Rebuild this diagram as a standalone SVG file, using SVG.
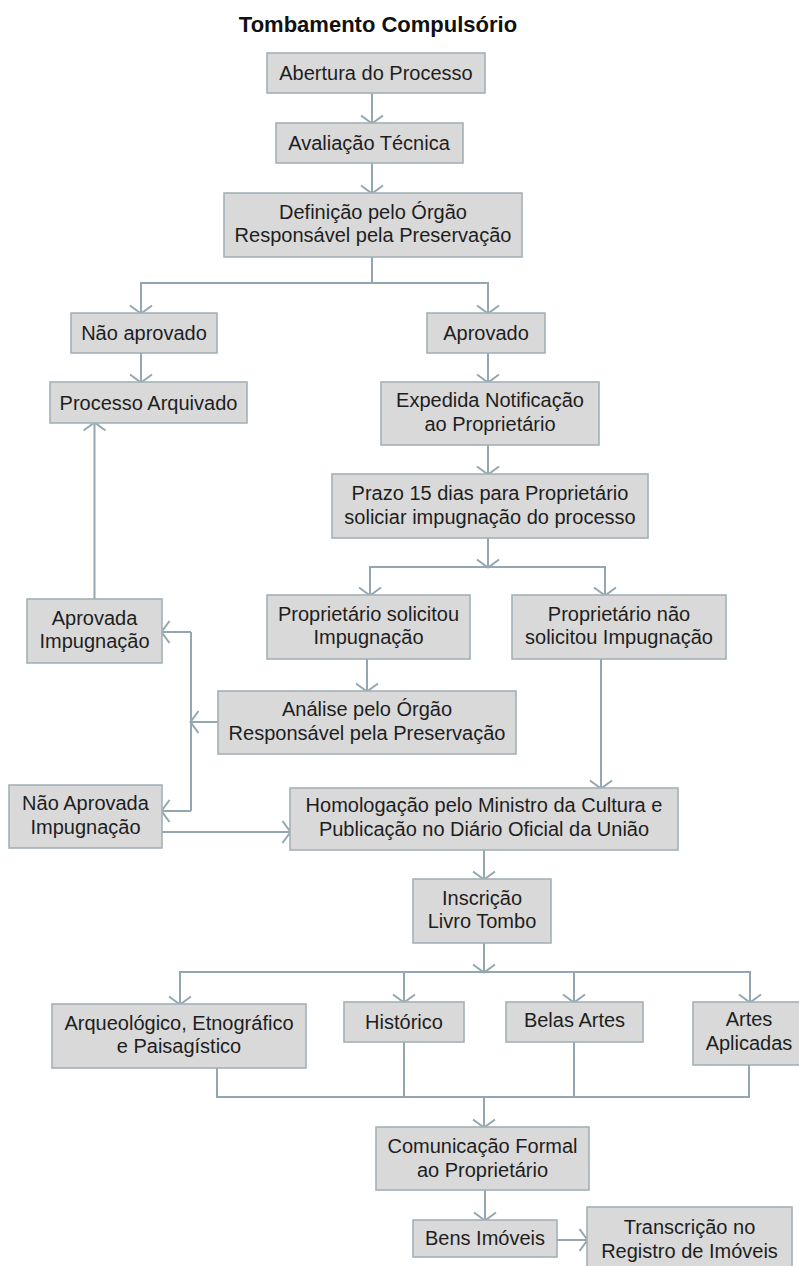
<svg xmlns="http://www.w3.org/2000/svg" width="799" height="1266" viewBox="0 0 799 1266">
<style>
.box{fill:#d9d9d9;stroke:#a3b1b7;stroke-width:1.6}
.t{font-family:"Liberation Sans",Arial,sans-serif;font-size:20px;fill:#1e1e1e;text-anchor:middle}
.title{font-family:"Liberation Sans",Arial,sans-serif;font-size:22px;font-weight:bold;fill:#111;text-anchor:middle}
.c{fill:none;stroke:#94a7b0;stroke-width:2}
.a{marker-end:url(#ah)}
</style>
<defs>
<marker id="ah" markerUnits="userSpaceOnUse" viewBox="0 0 24 24" markerWidth="24" markerHeight="24" refX="11.5" refY="12" orient="auto">
<path d="M4 1 L12 12 L4 23" fill="none" stroke="#94a7b0" stroke-width="2"/>
</marker>
</defs>
<rect width="799" height="1266" fill="#ffffff"/>
<text class="title" x="378" y="32">Tombamento Compulsório</text>

<g id="connectors">
<path class="c a" d="M372 93 V123"/>
<path class="c a" d="M372 163 V193"/>
<path class="c" d="M372 257 V283"/>
<path class="c a" d="M372 283 H141 V313"/>
<path class="c a" d="M372 283 H488 V313"/>
<path class="c a" d="M141 353 V382"/>
<path class="c a" d="M488 353 V382"/>
<path class="c a" d="M488 445 V474"/>
<path class="c a" d="M488 538 V567"/>
<path class="c a" d="M488 567 H370 V595"/>
<path class="c a" d="M488 567 H605 V595"/>
<path class="c a" d="M367 659 V691"/>
<path class="c a" d="M601 659 V788"/>
<path class="c a" d="M218 722 H191"/>
<path class="c" d="M191 632 V811"/>
<path class="c a" d="M191 632 H162"/>
<path class="c a" d="M191 811 H162"/>
<path class="c a" d="M94.5 599 V423"/>
<path class="c a" d="M162 832 H290"/>
<path class="c a" d="M484 850 V879"/>
<path class="c a" d="M484 943 V972"/>
<path class="c a" d="M484 972 H180 V1004"/>
<path class="c a" d="M404 972 V1002"/>
<path class="c a" d="M574 972 V1002"/>
<path class="c a" d="M484 972 H750 V1002"/>
<path class="c" d="M217 1068 V1097 H749 V1065"/>
<path class="c" d="M404 1042 V1097"/>
<path class="c" d="M574 1042 V1097"/>
<path class="c a" d="M484 1097 V1127"/>
<path class="c a" d="M485 1190 V1220"/>
<path class="c a" d="M557 1240 H587"/>
</g>

<g id="n-abertura"><rect class="box" x="267" y="53" width="218" height="40"/><text class="t" x="376" y="80">Abertura do Processo</text></g>
<g id="n-avaliacao"><rect class="box" x="276" y="123" width="187" height="40"/><text class="t" x="369" y="150">Avaliação Técnica</text></g>
<g id="n-definicao"><rect class="box" x="224" y="193" width="298" height="64"/><text class="t" x="373" y="218.5">Definição pelo Órgão</text><text class="t" x="373" y="242">Responsável pela Preservação</text></g>
<g id="n-naoaprovado"><rect class="box" x="71" y="313" width="146" height="40"/><text class="t" x="144" y="340">Não aprovado</text></g>
<g id="n-aprovado"><rect class="box" x="427" y="313" width="118" height="40"/><text class="t" x="486" y="340">Aprovado</text></g>
<g id="n-arquivado"><rect class="box" x="50" y="382" width="197" height="41"/><text class="t" x="148.5" y="409.5">Processo Arquivado</text></g>
<g id="n-expedida"><rect class="box" x="381" y="382" width="218" height="63"/><text class="t" x="490" y="407">Expedida Notificação</text><text class="t" x="490" y="430.5">ao Proprietário</text></g>
<g id="n-prazo"><rect class="box" x="332" y="474" width="316" height="64"/><text class="t" x="490" y="500">Prazo 15 dias para Proprietário</text><text class="t" x="490" y="523.5">soliciar impugnação do processo</text></g>
<g id="n-solicitou"><rect class="box" x="267" y="595" width="203" height="64"/><text class="t" x="368.5" y="620.5">Proprietário solicitou</text><text class="t" x="368.5" y="644">Impugnação</text></g>
<g id="n-naosolicitou"><rect class="box" x="512" y="595" width="214" height="64"/><text class="t" x="619" y="620.5">Proprietário não</text><text class="t" x="619" y="644">solicitou Impugnação</text></g>
<g id="n-aprovadaimp"><rect class="box" x="27" y="599" width="135" height="64"/><text class="t" x="94.5" y="624.5">Aprovada</text><text class="t" x="94.5" y="648">Impugnação</text></g>
<g id="n-analise"><rect class="box" x="218" y="691" width="298" height="63"/><text class="t" x="367" y="715.5">Análise pelo Órgão</text><text class="t" x="367" y="739.5">Responsável pela Preservação</text></g>
<g id="n-naoaprovadaimp"><rect class="box" x="9" y="785" width="153" height="63"/><text class="t" x="85.5" y="809.5">Não Aprovada</text><text class="t" x="85.5" y="833.5">Impugnação</text></g>
<g id="n-homologacao"><rect class="box" x="290" y="788" width="388" height="62"/><text class="t" x="484" y="812">Homologação pelo Ministro da Cultura e</text><text class="t" x="484" y="836">Publicação no Diário Oficial da União</text></g>
<g id="n-inscricao"><rect class="box" x="413" y="879" width="138" height="64"/><text class="t" x="482" y="904.5">Inscrição</text><text class="t" x="482" y="928">Livro Tombo</text></g>
<g id="n-arqueologico"><rect class="box" x="52" y="1004" width="254" height="64"/><text class="t" x="179" y="1029.5">Arqueológico, Etnográfico</text><text class="t" x="179" y="1053">e Paisagístico</text></g>
<g id="n-historico"><rect class="box" x="344" y="1002" width="120" height="40"/><text class="t" x="404" y="1029">Histórico</text></g>
<g id="n-belasartes"><rect class="box" x="506" y="1002" width="137" height="40"/><text class="t" x="574.5" y="1027">Belas Artes</text></g>
<g id="n-artesaplicadas"><rect class="box" x="693" y="1002" width="112" height="63"/><text class="t" x="749" y="1025.5">Artes</text><text class="t" x="749" y="1050">Aplicadas</text></g>
<g id="n-comunicacao"><rect class="box" x="376" y="1127" width="213" height="63"/><text class="t" x="482.5" y="1152.5">Comunicação Formal</text><text class="t" x="482.5" y="1177">ao Proprietário</text></g>
<g id="n-bens"><rect class="box" x="413" y="1220" width="144" height="37"/><text class="t" x="485" y="1245">Bens Imóveis</text></g>
<g id="n-transcricao"><rect class="box" x="587" y="1207" width="205" height="66"/><text class="t" x="689.5" y="1234">Transcrição no</text><text class="t" x="689.5" y="1258">Registro de Imóveis</text></g>
</svg>
